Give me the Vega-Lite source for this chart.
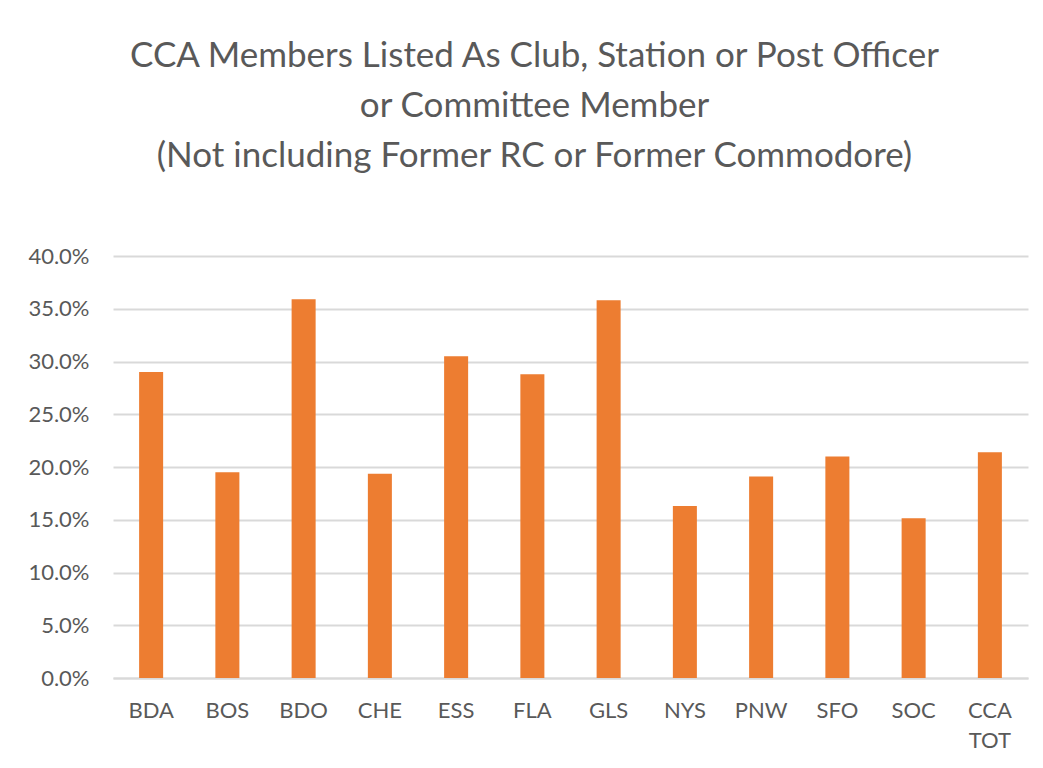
{
  "$schema": "https://vega.github.io/schema/vega-lite/v6.json",
  "autosize": {"type": "none"},
  "padding": {"left": 113, "top": 256, "right": 15, "bottom": 90},
  "width": 915,
  "height": 422,
  "background": "white",
  "title": {
    "text": ["CCA Members Listed As Club, Station or Post Officer", "or Committee Member", "(Not including Former RC or Former Commodore)"],
    "anchor": "middle",
    "dx": -36,
    "offset": 71,
    "font": "Lato",
    "fontSize": 35,
    "fontWeight": "normal",
    "lineHeight": 50,
    "color": "#595959"
  },
  "data": {
    "values": [
      {"club": "BDA", "pct": 0.290},
      {"club": "BOS", "pct": 0.195},
      {"club": "BDO", "pct": 0.359},
      {"club": "CHE", "pct": 0.1935},
      {"club": "ESS", "pct": 0.305},
      {"club": "FLA", "pct": 0.288},
      {"club": "GLS", "pct": 0.358},
      {"club": "NYS", "pct": 0.163},
      {"club": "PNW", "pct": 0.191},
      {"club": "SFO", "pct": 0.210},
      {"club": "SOC", "pct": 0.1515},
      {"club": "CCA TOT", "pct": 0.214}
    ]
  },
  "mark": {"type": "bar", "color": "#ED7D31"},
  "encoding": {
    "x": {
      "field": "club",
      "type": "nominal",
      "sort": null,
      "title": null,
      "scale": {"paddingInner": 0.685, "paddingOuter": 0.3425},
      "axis": {
        "labelAngle": 0,
        "labelFont": "Lato",
        "labelFontSize": 22,
        "labelColor": "#595959",
        "labelPadding": 22,
        "labelLineHeight": 30,
        "labelExpr": "split(datum.label, ' ')",
        "ticks": false,
        "domainColor": "#d9d9d9",
        "domainWidth": 2,
        "grid": false
      }
    },
    "y": {
      "field": "pct",
      "type": "quantitative",
      "title": null,
      "scale": {"domain": [0, 0.4]},
      "axis": {
        "format": ".1%",
        "values": [0, 0.05, 0.1, 0.15, 0.2, 0.25, 0.3, 0.35, 0.4],
        "labelFont": "Lato",
        "labelFontSize": 22,
        "labelColor": "#595959",
        "labelPadding": 24,
        "ticks": false,
        "domain": false,
        "gridColor": "#d9d9d9",
        "gridWidth": 2
      }
    }
  },
  "config": {"view": {"stroke": null}}
}
